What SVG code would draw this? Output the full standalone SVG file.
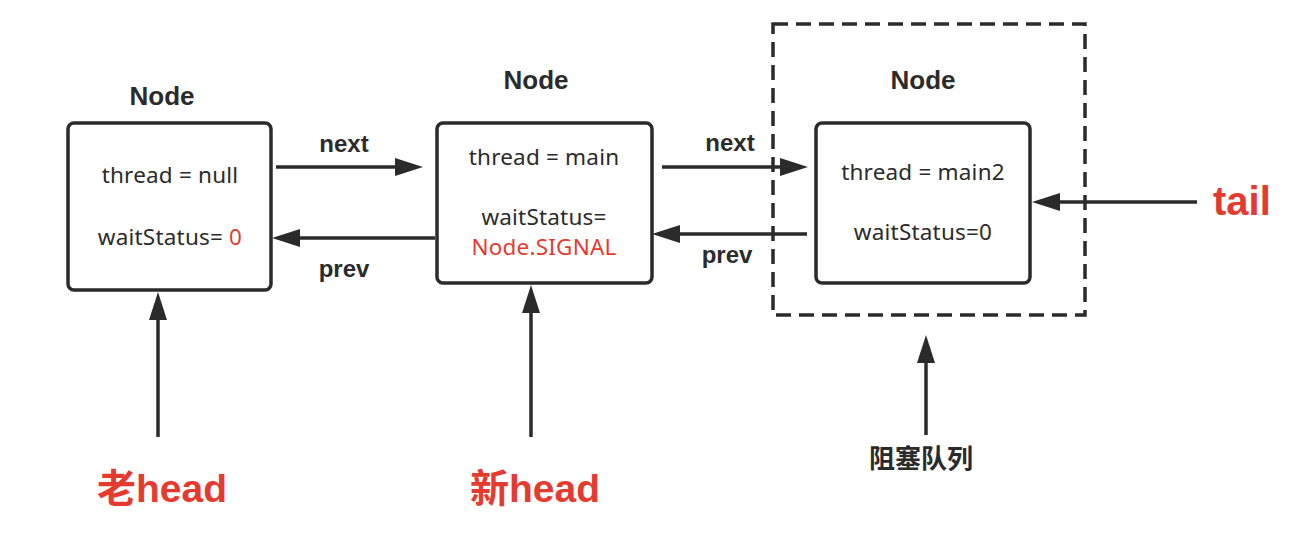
<svg xmlns="http://www.w3.org/2000/svg" width="1310" height="534" viewBox="0 0 1310 534">
<style>
.box{fill:#fff;stroke:#2b2b2b;stroke-width:3.5}
.dash{fill:none;stroke:#2b2b2b;stroke-width:3.5;stroke-dasharray:15 8}
.ln{stroke:#2b2b2b;stroke-width:3.5;fill:none}
.title{font-family:"Liberation Sans",Arial,sans-serif;font-weight:bold;font-size:26px;fill:#2b2b2b;text-anchor:middle}
.lbl{font-family:"Liberation Sans",Arial,sans-serif;font-weight:bold;font-size:24px;fill:#2b2b2b;text-anchor:middle}
.body{font-family:"Noto Sans","Liberation Sans",sans-serif;font-size:22.5px;letter-spacing:0.2px;fill:#2b2b2b;text-anchor:middle}
.red{fill:#e53a2f}
.big{font-family:"Liberation Sans","Noto Sans CJK SC",sans-serif;font-weight:bold;font-size:39px;fill:#e53a2f}
.cjk{font-family:"Noto Sans CJK SC",sans-serif;font-weight:bold;font-size:26px;fill:#2b2b2b;text-anchor:middle}
</style>
<defs>
<marker id="ah" viewBox="0 0 28 18" refX="18" refY="9" markerWidth="28" markerHeight="18" markerUnits="userSpaceOnUse" orient="auto">
<path d="M0,0 L28,9 L0,18 Z" fill="#2b2b2b"/>
</marker>
</defs>
<g id="queue">
<rect class="dash" x="773" y="24" width="312" height="291"/>
<text class="cjk" x="921" y="468">阻塞队列</text>
</g>
<g id="node1">
<text class="title" x="162" y="105">Node</text>
<rect class="box" x="68" y="123" width="203" height="167" rx="6"/>
<text class="body" x="170" y="183">thread = null</text>
<text class="body" x="170" y="245">waitStatus= <tspan class="red">0</tspan></text>
</g>
<g id="node2">
<text class="title" x="536" y="89">Node</text>
<rect class="box" x="437" y="123" width="215" height="160" rx="6"/>
<text class="body" x="544" y="165">thread = main</text>
<text class="body" x="544" y="225">waitStatus=</text>
<text class="body red" x="544" y="255">Node.SIGNAL</text>
</g>
<g id="node3">
<text class="title" x="923" y="89">Node</text>
<rect class="box" x="816" y="123" width="214" height="160" rx="6"/>
<text class="body" x="923" y="180">thread = main2</text>
<text class="body" x="923" y="240">waitStatus=0</text>
</g>
<g id="oldhead"><text class="big" x="97" y="502">老head</text></g>
<g id="newhead"><text class="big" x="470" y="502">新head</text></g>
<g id="tail"><text class="big" x="1213" y="215" style="font-size:40px">tail</text></g>
<g id="connectors">
<line class="ln" x1="276" y1="167" x2="413" y2="167" marker-end="url(#ah)"/>
<text class="lbl" x="344" y="152">next</text>
<line class="ln" x1="435" y1="238" x2="282" y2="238" marker-end="url(#ah)"/>
<text class="lbl" x="344" y="277">prev</text>
<line class="ln" x1="662" y1="167" x2="798" y2="167" marker-end="url(#ah)"/>
<text class="lbl" x="730" y="151">next</text>
<line class="ln" x1="807" y1="234" x2="662" y2="234" marker-end="url(#ah)"/>
<text class="lbl" x="727" y="263">prev</text>
<line class="ln" x1="1197" y1="202" x2="1042" y2="202" marker-end="url(#ah)"/>
<line class="ln" x1="158" y1="437" x2="158" y2="302" marker-end="url(#ah)"/>
<line class="ln" x1="531" y1="437" x2="531" y2="295" marker-end="url(#ah)"/>
<line class="ln" x1="926" y1="435" x2="926" y2="345" marker-end="url(#ah)"/>
</g>
</svg>
